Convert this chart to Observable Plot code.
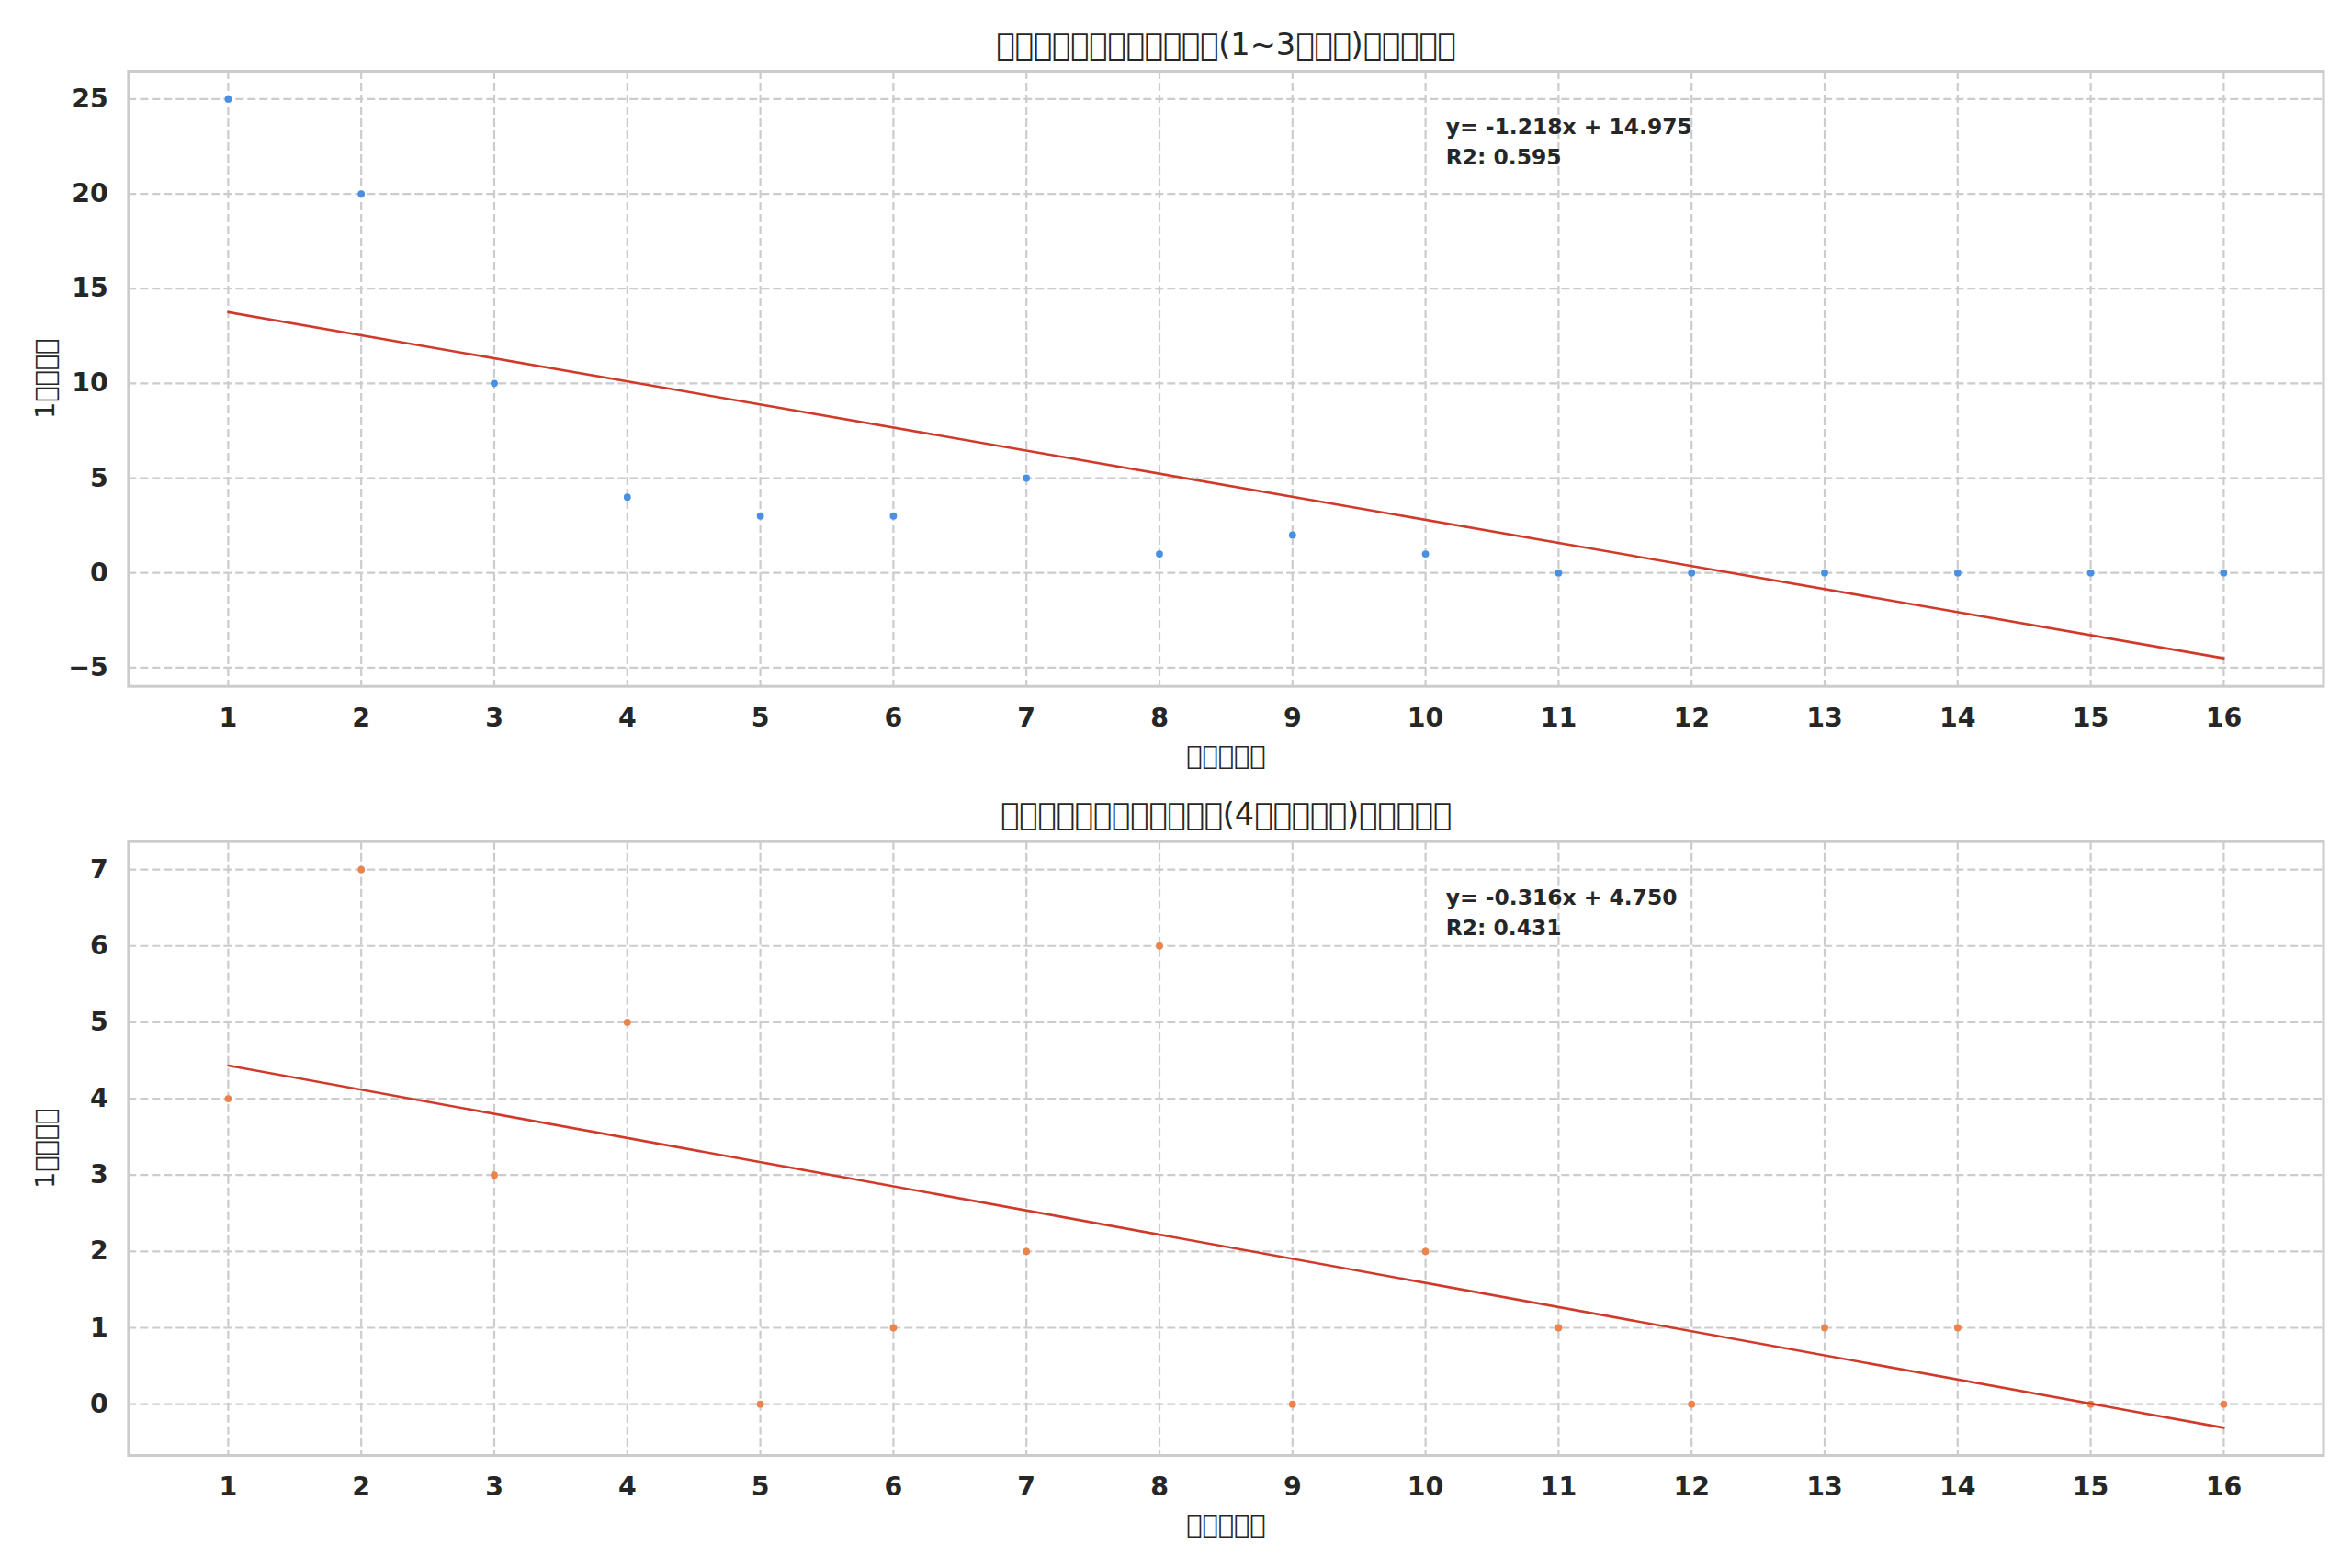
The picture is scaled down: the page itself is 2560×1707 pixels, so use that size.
<!DOCTYPE html>
<html>
<head>
<meta charset="utf-8">
<script src="https://cdn.jsdelivr.net/npm/d3@7"></script>
<script src="https://cdn.jsdelivr.net/npm/@observablehq/plot@0.6"></script>
<style>
  html, body { margin: 0; padding: 0; background: #ffffff; }
  #chart svg { display: block; }
</style>
</head>
<body>
<div id="chart"></div>
<script>
// ---- data ----
const intervals = [1, 2, 3, 4, 5, 6, 7, 8, 9, 10, 11, 12, 13, 14, 15, 16];
const countsLow = [25, 20, 10, 4, 3, 3, 5, 1, 2, 1, 0, 0, 0, 0, 0, 0];
const countsHigh = [4, 7, 3, 5, 0, 1, 2, 6, 0, 2, 1, 0, 1, 1, 0, 0];

const xTicks = [1, 2, 3, 4, 5, 6, 7, 8, 9, 10, 11, 12, 13, 14, 15, 16];
const yTicksLow = [-5, 0, 5, 10, 15, 20, 25];
const yTicksHigh = [0, 1, 2, 3, 4, 5, 6, 7];

// The reference renders its CJK text as missing-glyph boxes; these strings reproduce that.
const titleLow = "\uE000\uE000\uE000\uE000\uE000\uE000\uE000\uE000\uE000\uE000\uE000\uE000(1~3\uE000\uE000\uE000)\uE000\uE000\uE000\uE000\uE000";
const titleHigh = "\uE000\uE000\uE000\uE000\uE000\uE000\uE000\uE000\uE000\uE000\uE000\uE000(4\uE000\uE000\uE000\uE000\uE000)\uE000\uE000\uE000\uE000\uE000";
const xLabel = "\uE000\uE000\uE000\uE000\uE000";
const yLabel = "1\uE000\uE000\uE000\uE000";

const annotLow = ["y= -1.218x + 14.975", "R2: 0.595"];
const annotHigh = ["y= -0.316x + 4.750", "R2: 0.431"];

// ---- helpers ----
const TEXT = "#262626";

function panel({values, color, yDomain, yTicks, title, annot, height, marginTop, marginBottom}) {
  const rows = intervals.map((x, i) => ({x, y: values[i]}));
  return Plot.plot({
    width: 2560,
    height,
    marginLeft: 139.3,
    marginRight: 31.5,
    marginTop,
    marginBottom,
    style: {fontFamily: "DejaVu Sans", background: "#ffffff", color: TEXT},
    x: {domain: [0.25, 16.75]},
    y: {domain: yDomain},
    marks: [
      Plot.gridX(xTicks, {stroke: "#cccccc", strokeOpacity: 1, strokeWidth: 2.2, strokeDasharray: "9,4"}),
      Plot.gridY(yTicks, {stroke: "#cccccc", strokeOpacity: 1, strokeWidth: 2.2, strokeDasharray: "9,4"}),
      Plot.frame({stroke: "#cccccc", strokeWidth: 3}),
      Plot.dot(rows, {x: "x", y: "y", r: 3.9, fill: color, stroke: null}),
      Plot.linearRegressionY(rows, {x: "x", y: "y", ci: 0, stroke: "#d03a2b", strokeWidth: 2.6}),
      Plot.axisX(xTicks, {tickSize: 0, tickPadding: 23.5, tickFormat: d3.format("d"), fontSize: 28.4, fontWeight: "bold", fill: TEXT, label: null}),
      Plot.axisY(yTicks, {tickSize: 0, tickPadding: 22, tickFormat: d3.format("d"), fontSize: 28.4, fontWeight: "bold", fill: TEXT, label: null}),
      Plot.text([annot.join("\n")], {
        frameAnchor: "top-left", dx: 1434, dy: 45, text: d => d,
        textAnchor: "start", lineAnchor: "top", lineHeight: 1.42,
        fontSize: 23.4, fontWeight: "bold", fill: TEXT
      }),
      Plot.text([title], {
        frameAnchor: "top", dy: -18, text: d => d, lineAnchor: "bottom",
        fontSize: 33.6, fill: TEXT
      }),
      Plot.text([xLabel], {
        frameAnchor: "bottom", dy: 84.5, text: d => d, lineAnchor: "bottom",
        fontSize: 28.8, fill: TEXT
      }),
      Plot.text([yLabel], {
        frameAnchor: "left", dx: -81, rotate: -90, text: d => d, lineAnchor: "bottom",
        textAnchor: "middle", fontSize: 28.8, fill: TEXT
      })
    ]
  });
}

const chart = document.getElementById("chart");
chart.appendChild(panel({
  values: countsLow, color: "#4a90e2",
  yDomain: [-5.9887, 26.4747], yTicks: yTicksLow,
  title: titleLow, annot: annotLow,
  height: 850, marginTop: 77, marginBottom: 103.3
}));
chart.appendChild(panel({
  values: countsHigh, color: "#ea844c",
  yDomain: [-0.6713, 7.3653], yTicks: yTicksHigh,
  title: titleHigh, annot: annotHigh,
  height: 857, marginTop: 65.7, marginBottom: 123
}));
</script>
</body>
</html>
